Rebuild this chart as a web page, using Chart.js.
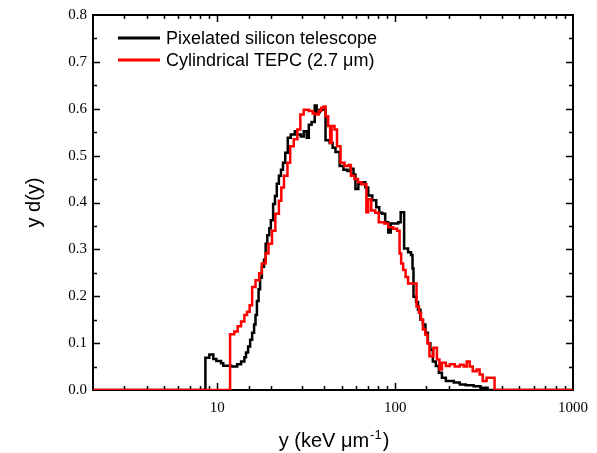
<!DOCTYPE html>
<html>
<head>
<meta charset="utf-8">
<script src="https://cdn.jsdelivr.net/npm/chart.js@4.4.1/dist/chart.umd.min.js"></script>
<style>
  html, body { margin: 0; padding: 0; background: #fff; }
  canvas { display: block; }
</style>
</head>
<body>
<canvas id="myChart" width="597" height="453"></canvas>
<script>
// series: left bin edge (keV/um) and y d(y) level from that edge on
const blackX = [2, 8.57, 9.02, 9.50, 9.87, 10.5, 10.8, 11.97, 12.93, 13.6, 14.2, 14.5, 14.9, 15.3, 15.7, 16.1, 16.4, 16.7, 17.06, 17.4, 17.8, 18.3, 18.7, 19.1, 19.6, 20.0, 20.6, 21.1, 21.6, 22.2, 22.8, 23.4, 24.1, 24.9, 25.9, 27.3, 28.0, 29.5, 30.6, 31.8, 32.7, 33.9, 35.3, 36.2, 37.6, 39.1, 40.6, 42.8, 44.5, 46.2, 48.7, 51.2, 53.9, 56.1, 58.3, 59.8, 62.1, 65.4, 68.0, 70.6, 74.4, 78.3, 81.4, 84.6, 87.9, 91.4, 94.4, 104, 107.4, 112.3, 118.2, 122.8, 125.2, 126.8, 131, 134.4, 138.7, 143.3, 148, 152.8, 157.8, 162.9, 169.4, 176.1, 183.2, 192.8, 213.8, 230.9, 249.2, 276.3, 302.2, 331, 1000];
const blackY = [0, 0.069, 0.076, 0.066, 0.062, 0.057, 0.052, 0.050, 0.055, 0.061, 0.070, 0.080, 0.093, 0.107, 0.122, 0.140, 0.160, 0.190, 0.215, 0.240, 0.263, 0.278, 0.312, 0.330, 0.345, 0.362, 0.397, 0.414, 0.440, 0.457, 0.470, 0.485, 0.506, 0.538, 0.545, 0.552, 0.545, 0.541, 0.552, 0.538, 0.566, 0.572, 0.607, 0.592, 0.598, 0.600, 0.533, 0.527, 0.517, 0.508, 0.478, 0.470, 0.467, 0.472, 0.460, 0.429, 0.440, 0.443, 0.432, 0.415, 0.405, 0.390, 0.378, 0.376, 0.358, 0.336, 0.355, 0.358, 0.379, 0.302, 0.294, 0.288, 0.259, 0.199, 0.188, 0.171, 0.150, 0.140, 0.122, 0.100, 0.086, 0.061, 0.051, 0.037, 0.026, 0.019, 0.016, 0.012, 0.010, 0.008, 0.005, 0, 0];

const redX = [2, 11.8, 12.45, 13.02, 13.6, 14.2, 14.7, 15.2, 15.7, 16.4, 17.2, 17.8, 18.7, 19.4, 20.3, 21.2, 22.2, 22.9, 23.7, 24.8, 25.7, 26.9, 28.2, 29.3, 30.6, 32.7, 34.4, 35.7, 37.2, 38.4, 39.6, 40.6, 42.0, 43.1, 43.9, 45.6, 47.1, 49.3, 51.9, 54.6, 56.4, 59.0, 61.8, 64.6, 68.9, 70.6, 73.4, 77.3, 80.9, 86.9, 91.4, 97.5, 102.6, 105.9, 108.1, 110.9, 114.5, 118.2, 131.9, 136.2, 139.7, 143.3, 148, 152, 155.9, 164.1, 171.8, 177.4, 183.2, 192.8, 202.9, 216.3, 230.9, 242.8, 252.5, 262.4, 272.9, 287.1, 298.5, 310.5, 326.6, 362.2, 1000];
const redY = [0, 0.119, 0.125, 0.136, 0.146, 0.160, 0.167, 0.181, 0.220, 0.234, 0.249, 0.270, 0.291, 0.312, 0.340, 0.376, 0.404, 0.432, 0.457, 0.485, 0.520, 0.535, 0.556, 0.588, 0.598, 0.595, 0.590, 0.588, 0.595, 0.602, 0.605, 0.584, 0.563, 0.527, 0.563, 0.556, 0.520, 0.485, 0.478, 0.480, 0.457, 0.450, 0.443, 0.439, 0.379, 0.407, 0.383, 0.378, 0.358, 0.355, 0.347, 0.344, 0.340, 0.291, 0.270, 0.256, 0.241, 0.227, 0.178, 0.165, 0.150, 0.129, 0.118, 0.100, 0.072, 0.090, 0.065, 0.044, 0.058, 0.051, 0.055, 0.050, 0.054, 0.050, 0.061, 0.050, 0.040, 0.044, 0.033, 0.019, 0.026, 0, 0];

const xTickLabels = [10, 100, 1000];
const yMinorStep = 0.05;

const toPoints = (xs, ys) => xs.map((x, i) => ({ x: x, y: ys[i] }));

// frame with inward ticks on all four sides, plus titles and legend
const framePlugin = {
    id: 'frame',
    beforeDatasetsDraw(chart) {
        const c = chart.ctx, a = chart.chartArea;
        const xs = chart.scales.x, ys = chart.scales.y;
        c.save();
        c.strokeStyle = '#000';
        c.lineWidth = 2;
        c.strokeRect(a.left, a.top, a.right - a.left, a.bottom - a.top);
        c.lineWidth = 1.5;
        c.beginPath();
        xs.ticks.forEach(t => {
            const major = xTickLabels.includes(t.value);
            const len = major ? 7 : 4;
            const px = Math.round(xs.getPixelForValue(t.value)) + 0.5;
            if (px <= a.left + 1 || px >= a.right - 1) return;
            c.moveTo(px, a.bottom); c.lineTo(px, a.bottom - len);
            c.moveTo(px, a.top); c.lineTo(px, a.top + len);
        });
        for (let v = 0; v <= ys.max + 1e-9; v += yMinorStep) {
            const major = Math.abs(v * 10 - Math.round(v * 10)) < 1e-6;
            const len = major ? 7 : 4;
            const py = Math.round(ys.getPixelForValue(v)) + 0.5;
            if (py <= a.top + 1 || py >= a.bottom - 1) continue;
            c.moveTo(a.left, py); c.lineTo(a.left + len, py);
            c.moveTo(a.right, py); c.lineTo(a.right - len, py);
        }
        c.stroke();
        c.restore();
    },
    afterDraw(chart) {
        const c = chart.ctx, a = chart.chartArea;
        c.save();
        c.fillStyle = '#000';
        // y title
        c.font = '20px "Liberation Sans", Arial, sans-serif';
        c.textAlign = 'center';
        c.textBaseline = 'middle';
        c.translate(34, (a.top + a.bottom) / 2);
        c.rotate(-Math.PI / 2);
        c.fillText('y d(y)', 0, 0);
        c.setTransform(1, 0, 0, 1, 0, 0);
        // x title with superscript
        const main = 'y (keV \u03bcm', sup = '-1', tail = ')';
        const fMain = '20px "Liberation Sans", Arial, sans-serif';
        const fSup = '13px "Liberation Sans", Arial, sans-serif';
        c.font = fMain; const w1 = c.measureText(main).width, w3 = c.measureText(tail).width;
        c.font = fSup; const w2 = c.measureText(sup).width;
        let x0 = (a.left + a.right) / 2 - (w1 + w2 + w3) / 2;
        const base = 447;
        c.textAlign = 'left';
        c.textBaseline = 'alphabetic';
        c.font = fMain; c.fillText(main, x0, base);
        c.font = fSup; c.fillText(sup, x0 + w1 + 1, base - 8);
        c.font = fMain; c.fillText(tail, x0 + w1 + w2 + 2, base);
        // legend
        c.font = '18px "Liberation Sans", Arial, sans-serif';
        c.textBaseline = 'middle';
        chart.data.datasets.slice().sort((p, q) => p.legendRow - q.legendRow).forEach((ds, i) => {
            const y = 38 + i * 22;
            c.strokeStyle = ds.borderColor;
            c.lineWidth = 3;
            c.beginPath(); c.moveTo(118, y); c.lineTo(160, y); c.stroke();
            c.fillText(ds.label, 166, y + 1);
        });
        c.restore();
    }
};

const ctx = document.getElementById('myChart');
const myChart = new Chart(ctx, {
    type: 'line',
    data: {
        datasets: [
            {
                label: 'Cylindrical TEPC (2.7 \u03bcm)',
                data: toPoints(redX, redY),
                borderColor: '#ff0000',
                borderWidth: 2.5,
                stepped: 'before',
                pointRadius: 0,
                order: 0,
                legendRow: 1
            },
            {
                label: 'Pixelated silicon telescope',
                data: toPoints(blackX, blackY),
                borderColor: '#000000',
                borderWidth: 2.5,
                stepped: 'before',
                pointRadius: 0,
                order: 1,
                legendRow: 0
            }
        ]
    },
    options: {
        responsive: false,
        animation: false,
        layout: { padding: { top: 13, right: 22, left: 0, bottom: 0 } },
        plugins: { legend: { display: false }, tooltip: { enabled: false } },
        scales: {
            x: {
                type: 'logarithmic',
                min: 2,
                max: 1000,
                grid: { display: false, drawTicks: false },
                border: { display: false },
                ticks: {
                    autoSkip: false,
                    maxRotation: 0,
                    padding: 9,
                    color: '#000',
                    font: { family: '"Liberation Serif", "Times New Roman", serif', size: 15 },
                    callback: v => xTickLabels.includes(v) ? String(v) : ''
                },
                afterFit: s => { s.height = 63; }
            },
            y: {
                min: 0,
                max: 0.8,
                grid: { display: false, drawTicks: false },
                border: { display: false },
                ticks: {
                    stepSize: 0.1,
                    padding: 6,
                    color: '#000',
                    font: { family: '"Liberation Serif", "Times New Roman", serif', size: 15 },
                    callback: v => v.toFixed(1)
                },
                afterFit: s => { s.width = 93; }
            }
        }
    },
    plugins: [framePlugin]
});
</script>
</body>
</html>
